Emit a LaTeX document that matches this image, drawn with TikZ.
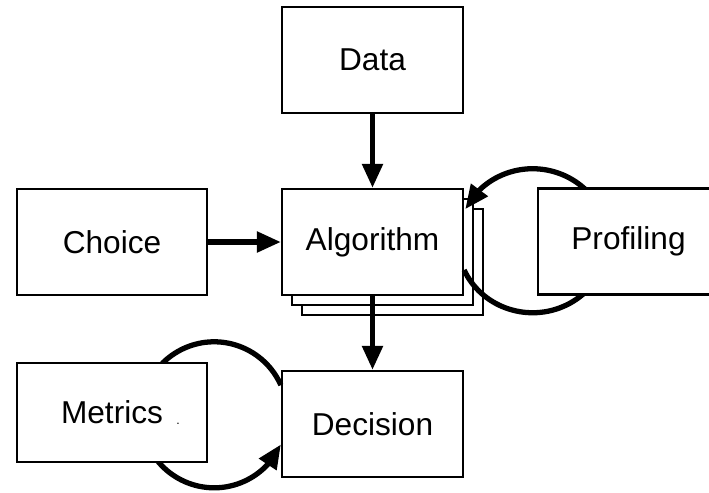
\documentclass[tikz,border=0pt]{standalone}
\usepackage{fontspec}
\setmainfont{Liberation Sans}
\usetikzlibrary{arrows.meta,bending,shadows}

\begin{document}
\begin{tikzpicture}[
      box/.style={draw, line width=1.3pt, fill=white, minimum width=3.62cm, minimum height=2.12cm, font=\fontsize{18}{22}\selectfont},
      wide/.style={box, minimum width=3.8cm},
      stack/.style={box, double copy shadow={shadow xshift=0.2cm, shadow yshift=-0.2cm, draw, fill=white, line width=1.3pt}},
      arr/.style={-{Triangle[length=0.48cm, width=0.4cm]}, line width=3pt}
    ]
    \useasboundingbox (0,0) rectangle (14.18,-9.84);
    \clip (0,0) rectangle (14.18,-9.84);
    \node[box] (data) at (7.45,-1.2) {Data};
    \node[stack] (alg) at (7.45,-4.84) {Algorithm};
    \node[wide] (choice) at (2.24,-4.84) {Choice};
    \node[box] (dec) at (7.45,-8.48) {Decision};
    \draw[arr] (data) -- (alg);
    \draw[arr] (choice) -- (alg);
    \draw[arr] (alg) -- (dec);
    % feedback loops, the side boxes are drawn over them
    \draw[arr] (alg.-17) arc[start angle=204, end angle=514, x radius=1.5cm, y radius=1.44cm];
    \draw[arr] (dec.157) arc[start angle=24, end angle=336, radius=1.46cm];
    \node[box] (prof) at (12.57,-4.83) {Profiling};
    \node[wide, minimum height=1.98cm] (metrics) at (2.24,-8.25) {Metrics};
    \node[font=\scriptsize] (dot) at (3.56,-8.47) {.};
\end{tikzpicture}
\end{document}
